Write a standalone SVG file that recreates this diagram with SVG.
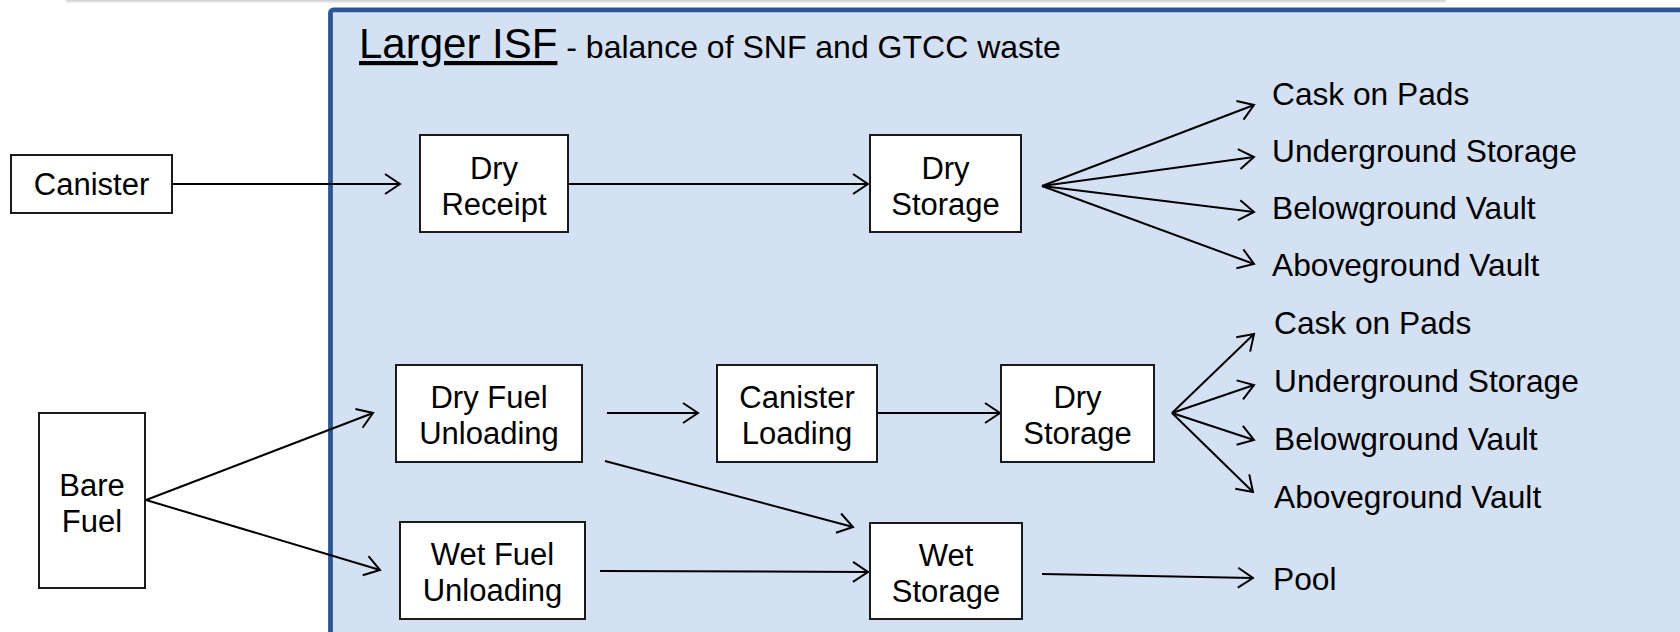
<svg xmlns="http://www.w3.org/2000/svg" width="1680" height="632" viewBox="0 0 1680 632">
  <defs>
    <marker id="open-arrow" viewBox="-17 -12 20 24" refX="0" refY="0" markerWidth="20" markerHeight="24" markerUnits="userSpaceOnUse" orient="auto">
      <path d="M-15,-10 L0,0 L-15,10" fill="none" stroke="#000" stroke-width="2" stroke-linejoin="miter"/>
    </marker>
    <filter id="soft" x="-5%" y="-200%" width="110%" height="500%">
      <feGaussianBlur stdDeviation="1.2"/>
    </filter>
  </defs>
  <style>
    .box { fill: #ffffff; stroke: #1a1a1a; stroke-width: 2; }
    .lbl { font-family: "Liberation Sans", Arial, sans-serif; font-size: 31px; fill: #000; text-anchor: middle; }
    .out { font-family: "Liberation Sans", Arial, sans-serif; font-size: 31.7px; fill: #000; }
    .conn { fill: none; stroke: #000; stroke-width: 2; marker-end: url(#open-arrow); }
  </style>

  <!-- page background -->
  <rect x="0" y="0" width="1680" height="632" fill="#ffffff"/>
  <!-- edge of the panel above, with its shadow -->
  <rect x="66" y="-4" width="1380" height="6" fill="#cfcfcf" filter="url(#soft)"/>
  <rect x="66" y="-6" width="1380" height="6" fill="#ffffff"/>

  <!-- facility frame -->
  <g id="larger-isf">
    <rect x="330.5" y="9.8" width="1400" height="700" rx="3" fill="#d4e1f3" stroke="#2b5797" stroke-width="4.8"/>
    <text x="359" y="58" font-family="'Liberation Sans', Arial, sans-serif" fill="#000"><tspan font-size="42px" text-decoration="underline">Larger ISF</tspan><tspan font-size="32px"> - balance of SNF and GTCC waste</tspan></text>
  </g>

  <!-- connectors -->
  <g id="connectors">
    <line class="conn" x1="172" y1="184" x2="400" y2="184"/>
    <line class="conn" x1="568" y1="184" x2="868" y2="184"/>
    <line class="conn" x1="1042" y1="186" x2="1254" y2="105"/>
    <line class="conn" x1="1042" y1="186" x2="1254" y2="157"/>
    <line class="conn" x1="1042" y1="186" x2="1254" y2="212"/>
    <line class="conn" x1="1042" y1="186" x2="1254" y2="264"/>
    <line class="conn" x1="146" y1="500" x2="373" y2="413"/>
    <line class="conn" x1="146" y1="500" x2="380" y2="570"/>
    <line class="conn" x1="607" y1="413" x2="698" y2="413"/>
    <line class="conn" x1="877" y1="413" x2="1000" y2="413"/>
    <line class="conn" x1="605" y1="461" x2="853" y2="527"/>
    <line class="conn" x1="600" y1="571" x2="868" y2="572"/>
    <line class="conn" x1="1172" y1="413" x2="1254" y2="334"/>
    <line class="conn" x1="1172" y1="413" x2="1254" y2="385"/>
    <line class="conn" x1="1172" y1="413" x2="1254" y2="440"/>
    <line class="conn" x1="1172" y1="413" x2="1253" y2="492"/>
    <line class="conn" x1="1042" y1="574" x2="1253" y2="578"/>
  </g>

  <!-- process steps -->
  <g id="canister">
    <rect class="box" x="11" y="155" width="161" height="58"/>
    <text class="lbl" x="91.5" y="195">Canister</text>
  </g>
  <g id="bare-fuel">
    <rect class="box" x="39" y="413" width="106" height="175"/>
    <text class="lbl" x="92" y="496">Bare</text>
    <text class="lbl" x="92" y="532">Fuel</text>
  </g>
  <g id="dry-receipt">
    <rect class="box" x="420" y="135" width="148" height="97"/>
    <text class="lbl" x="494" y="179">Dry</text>
    <text class="lbl" x="494" y="215">Receipt</text>
  </g>
  <g id="dry-storage-1">
    <rect class="box" x="870" y="135" width="151" height="97"/>
    <text class="lbl" x="945.5" y="179">Dry</text>
    <text class="lbl" x="945.5" y="215">Storage</text>
  </g>
  <g id="dry-fuel-unloading">
    <rect class="box" x="396" y="365" width="186" height="97"/>
    <text class="lbl" x="489" y="408">Dry Fuel</text>
    <text class="lbl" x="489" y="444">Unloading</text>
  </g>
  <g id="canister-loading">
    <rect class="box" x="717" y="365" width="160" height="97"/>
    <text class="lbl" x="797" y="408">Canister</text>
    <text class="lbl" x="797" y="444">Loading</text>
  </g>
  <g id="dry-storage-2">
    <rect class="box" x="1001" y="365" width="153" height="97"/>
    <text class="lbl" x="1077.5" y="408">Dry</text>
    <text class="lbl" x="1077.5" y="444">Storage</text>
  </g>
  <g id="wet-fuel-unloading">
    <rect class="box" x="400" y="522" width="185" height="97"/>
    <text class="lbl" x="492.5" y="565">Wet Fuel</text>
    <text class="lbl" x="492.5" y="601">Unloading</text>
  </g>
  <g id="wet-storage">
    <rect class="box" x="870" y="523" width="152" height="96"/>
    <text class="lbl" x="946" y="566">Wet</text>
    <text class="lbl" x="946" y="602">Storage</text>
  </g>

  <!-- storage options -->
  <g id="options-1">
    <text class="out" x="1272" y="105">Cask on Pads</text>
    <text class="out" x="1272" y="162">Underground Storage</text>
    <text class="out" x="1272" y="219">Belowground Vault</text>
    <text class="out" x="1272" y="276">Aboveground Vault</text>
  </g>
  <g id="options-2">
    <text class="out" x="1274" y="334">Cask on Pads</text>
    <text class="out" x="1274" y="392">Underground Storage</text>
    <text class="out" x="1274" y="450">Belowground Vault</text>
    <text class="out" x="1274" y="508">Aboveground Vault</text>
  </g>
  <g id="pool">
    <text class="out" x="1273" y="590">Pool</text>
  </g>
</svg>
